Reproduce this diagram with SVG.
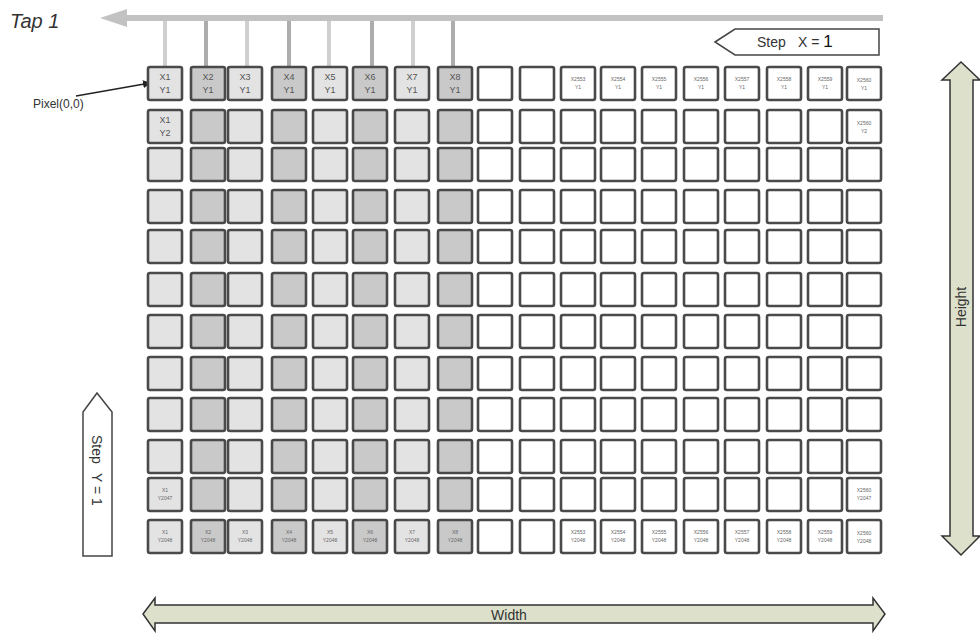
<svg xmlns="http://www.w3.org/2000/svg" xmlns:xlink="http://www.w3.org/1999/xlink" width="980" height="642" viewBox="0 0 980 642">
<style>
.t9{font-family:"Liberation Sans",Arial,sans-serif;font-size:9px;fill:#555;text-anchor:middle}
.t5{font-family:"Liberation Sans",Arial,sans-serif;font-size:5px;fill:#666;text-anchor:middle}
.lbl{font-family:"Liberation Sans",Arial,sans-serif;fill:#333}
.drop{stroke-width:4;fill:none}
</style>
<defs>
<rect id="c" width="34" height="33" rx="2" stroke="#4a4a4a" stroke-width="2.6"/>
<g id="gridrow">
<use href="#c" x="148" fill="#e3e3e3"/>
<use href="#c" x="191" fill="#c9c9c9"/>
<use href="#c" x="228" fill="#e3e3e3"/>
<use href="#c" x="272" fill="#c9c9c9"/>
<use href="#c" x="313" fill="#e3e3e3"/>
<use href="#c" x="353" fill="#c9c9c9"/>
<use href="#c" x="395" fill="#e3e3e3"/>
<use href="#c" x="438" fill="#c9c9c9"/>
<use href="#c" x="478" fill="#fff"/>
<use href="#c" x="520" fill="#fff"/>
<use href="#c" x="561" fill="#fff"/>
<use href="#c" x="601" fill="#fff"/>
<use href="#c" x="642" fill="#fff"/>
<use href="#c" x="684" fill="#fff"/>
<use href="#c" x="725" fill="#fff"/>
<use href="#c" x="767" fill="#fff"/>
<use href="#c" x="808" fill="#fff"/>
<use href="#c" x="847" fill="#fff"/>
</g>
<marker id="ah" markerWidth="8" markerHeight="8" refX="7" refY="4" orient="auto" markerUnits="userSpaceOnUse"><path d="M0,0 L8,4 L0,8 z" fill="#222"/></marker>
</defs>
<rect width="980" height="642" fill="#fff"/>

<g id="tap1">
<text x="10" y="28" class="lbl" font-size="20" font-style="italic" fill="#555">Tap 1</text>
<rect x="122" y="15" width="761" height="6" fill="#c2c2c2"/>
<polygon points="100,18 127,9 127,27" fill="#c2c2c2"/>
</g>

<g id="connectors">
<line class="drop" x1="165" y1="21" x2="165" y2="67" stroke="#cfcfcf"/>
<line class="drop" x1="206" y1="21" x2="206" y2="67" stroke="#adadad"/>
<line class="drop" x1="247" y1="21" x2="247" y2="67" stroke="#cfcfcf"/>
<line class="drop" x1="289" y1="21" x2="289" y2="67" stroke="#adadad"/>
<line class="drop" x1="329" y1="21" x2="329" y2="67" stroke="#cfcfcf"/>
<line class="drop" x1="372" y1="21" x2="372" y2="67" stroke="#adadad"/>
<line class="drop" x1="413" y1="21" x2="413" y2="67" stroke="#cfcfcf"/>
<line class="drop" x1="453" y1="21" x2="453" y2="67" stroke="#adadad"/>
<line x1="76" y1="96" x2="150" y2="83" stroke="#222" stroke-width="1.6" marker-end="url(#ah)"/>
</g>

<g id="pixel00-label">
<text x="33" y="108" class="lbl" font-size="12" fill="#444">Pixel(0,0)</text>
</g>

<g id="step-x">
<polygon points="715,42 735,29 879,29 879,55 735,55" fill="#fff" stroke="#444" stroke-width="1.5"/>
<text y="47" class="lbl" font-size="14" fill="#333"><tspan x="757">Step</tspan><tspan x="798">X = </tspan><tspan font-size="17" fill="#111">1</tspan></text>
</g>

<g id="row-1">
<use href="#gridrow" y="67"/>
<text class="t9"><tspan x="165" y="80">X1</tspan><tspan x="165" y="93">Y1</tspan></text>
<text class="t9"><tspan x="208" y="80">X2</tspan><tspan x="208" y="93">Y1</tspan></text>
<text class="t9"><tspan x="245" y="80">X3</tspan><tspan x="245" y="93">Y1</tspan></text>
<text class="t9"><tspan x="289" y="80">X4</tspan><tspan x="289" y="93">Y1</tspan></text>
<text class="t9"><tspan x="330" y="80">X5</tspan><tspan x="330" y="93">Y1</tspan></text>
<text class="t9"><tspan x="370" y="80">X6</tspan><tspan x="370" y="93">Y1</tspan></text>
<text class="t9"><tspan x="412" y="80">X7</tspan><tspan x="412" y="93">Y1</tspan></text>
<text class="t9"><tspan x="455" y="80">X8</tspan><tspan x="455" y="93">Y1</tspan></text>
<text class="t5"><tspan x="578" y="81">X2553</tspan><tspan x="578" y="89">Y1</tspan></text>
<text class="t5"><tspan x="618" y="81">X2554</tspan><tspan x="618" y="89">Y1</tspan></text>
<text class="t5"><tspan x="659" y="81">X2555</tspan><tspan x="659" y="89">Y1</tspan></text>
<text class="t5"><tspan x="701" y="81">X2556</tspan><tspan x="701" y="89">Y1</tspan></text>
<text class="t5"><tspan x="742" y="81">X2557</tspan><tspan x="742" y="89">Y1</tspan></text>
<text class="t5"><tspan x="784" y="81">X2558</tspan><tspan x="784" y="89">Y1</tspan></text>
<text class="t5"><tspan x="825" y="81">X2559</tspan><tspan x="825" y="89">Y1</tspan></text>
<text class="t5"><tspan x="864" y="82">X2560</tspan><tspan x="864" y="90">Y1</tspan></text>
</g>

<g id="row-2">
<use href="#gridrow" y="110"/>
<text class="t9"><tspan x="165" y="123">X1</tspan><tspan x="165" y="136">Y2</tspan></text>
<text class="t5"><tspan x="864" y="125">X2560</tspan><tspan x="864" y="133">Y2</tspan></text>
</g>
<g id="row-3"><use href="#gridrow" y="148"/></g>
<g id="row-4"><use href="#gridrow" y="190"/></g>
<g id="row-5"><use href="#gridrow" y="230"/></g>
<g id="row-6"><use href="#gridrow" y="273"/></g>
<g id="row-7"><use href="#gridrow" y="315"/></g>
<g id="row-8"><use href="#gridrow" y="357"/></g>
<g id="row-9"><use href="#gridrow" y="398"/></g>
<g id="row-10"><use href="#gridrow" y="440"/></g>
<g id="row-11">
<use href="#gridrow" y="478"/>
<text class="t5"><tspan x="165" y="492">X1</tspan><tspan x="165" y="500">Y2047</tspan></text>
<text class="t5"><tspan x="864" y="492">X2560</tspan><tspan x="864" y="500">Y2047</tspan></text>
</g>
<g id="row-12">
<use href="#gridrow" y="520"/>
<text class="t5"><tspan x="165" y="534">X1</tspan><tspan x="165" y="542">Y2048</tspan></text>
<text class="t5"><tspan x="208" y="534">X2</tspan><tspan x="208" y="542">Y2048</tspan></text>
<text class="t5"><tspan x="245" y="534">X3</tspan><tspan x="245" y="542">Y2048</tspan></text>
<text class="t5"><tspan x="289" y="534">X4</tspan><tspan x="289" y="542">Y2048</tspan></text>
<text class="t5"><tspan x="330" y="534">X5</tspan><tspan x="330" y="542">Y2048</tspan></text>
<text class="t5"><tspan x="370" y="534">X6</tspan><tspan x="370" y="542">Y2048</tspan></text>
<text class="t5"><tspan x="412" y="534">X7</tspan><tspan x="412" y="542">Y2048</tspan></text>
<text class="t5"><tspan x="455" y="534">X8</tspan><tspan x="455" y="542">Y2048</tspan></text>
<text class="t5"><tspan x="578" y="534">X2553</tspan><tspan x="578" y="542">Y2048</tspan></text>
<text class="t5"><tspan x="618" y="534">X2554</tspan><tspan x="618" y="542">Y2048</tspan></text>
<text class="t5"><tspan x="659" y="534">X2555</tspan><tspan x="659" y="542">Y2048</tspan></text>
<text class="t5"><tspan x="701" y="534">X2556</tspan><tspan x="701" y="542">Y2048</tspan></text>
<text class="t5"><tspan x="742" y="534">X2557</tspan><tspan x="742" y="542">Y2048</tspan></text>
<text class="t5"><tspan x="784" y="534">X2558</tspan><tspan x="784" y="542">Y2048</tspan></text>
<text class="t5"><tspan x="825" y="534">X2559</tspan><tspan x="825" y="542">Y2048</tspan></text>
<text class="t5"><tspan x="864" y="535">X2560</tspan><tspan x="864" y="543">Y2048</tspan></text>
</g>

<g id="step-y">
<polygon points="97,393 83,412 83,556 112,556 112,412" fill="#fff" stroke="#444" stroke-width="1.5"/>
<text class="lbl" font-size="14" fill="#333" transform="translate(92,435) rotate(90)"><tspan x="0">Step</tspan><tspan x="38">Y = 1</tspan></text>
</g>

<g id="height">
<polygon points="961,62 942,80 950,80 950,536 942,536 961,555 980,536 973,536 973,80 980,80" fill="#dde1cc" stroke="#333" stroke-width="1.5"/>
<text class="lbl" font-size="14" fill="#333" text-anchor="middle" transform="translate(966,307) rotate(-90)">Height</text>
</g>

<g id="width">
<polygon points="143,614 155,598 155,605 873,605 873,598 885,614 873,631 873,623 155,623 155,631" fill="#dde1cc" stroke="#333" stroke-width="1.5"/>
<text x="509" y="620" class="lbl" font-size="14" fill="#333" text-anchor="middle">Width</text>
</g>
</svg>
